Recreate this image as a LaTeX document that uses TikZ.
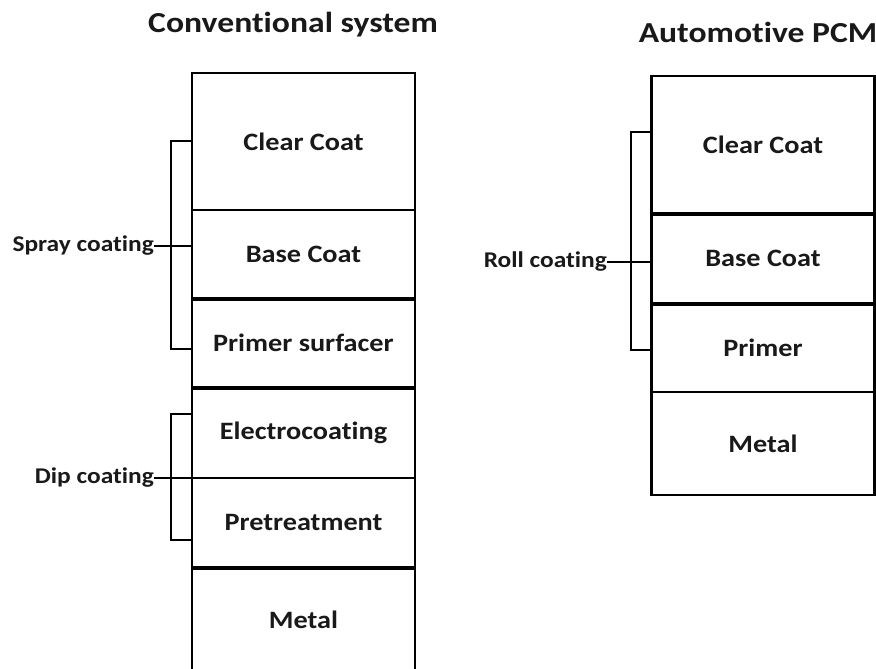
\documentclass[tikz,border=0pt]{standalone}
\usepackage{fontspec}
\newfontfamily\labfont[FakeStretch=1.13,Ligatures=NoCommon,BoldFont={Carlito Bold}]{Carlito}
\newfontfamily\titfont[FakeStretch=1.16,Ligatures=NoCommon,BoldFont={Carlito Bold}]{Carlito}
\begin{document}
\begin{tikzpicture}[x=1pt,y=-1pt,
  layer/.style={draw=black,line width=2.2pt,minimum width=223pt,inner sep=0pt,
    font=\labfont\bfseries\fontsize{25}{28}\selectfont,text=black!90},
  divider/.style={line width=3.2pt},
  bracket/.style={draw=black,line width=1.8pt},
  side/.style={font=\labfont\bfseries\fontsize{22.5}{26}\selectfont,text=black!90,inner sep=0pt,anchor=east},
  title/.style={font=\titfont\bfseries\fontsize{29}{32}\selectfont,text=black!90,inner sep=0pt,anchor=base}]
\useasboundingbox (0,0) rectangle (876,669);
\clip (0,0) rectangle (876,669);
% titles
\node[title] (t1) at (293,33) {Conventional system};
\node[title] (t2) at (758,43) {Automotive PCM};
% left stack
\node[layer,minimum height=137pt] (l1) at (303.5,141.5) {Clear Coat};
\node[layer,minimum height=88pt] (l2) at (303.5,254) {Base Coat};
\node[layer,minimum height=89pt] (l3) at (303.5,342.5) {Primer surfacer};
\node[layer,minimum height=91pt] (l4) at (303.5,432.5) {Electrocoating};
\node[layer,minimum height=89pt] (l5) at (303.5,522.5) {Pretreatment};
\node[layer,minimum height=106pt] (l6) at (303.5,620) {Metal};
\draw[divider] (l2.south west) -- (l2.south east);
\draw[divider] (l3.south west) -- (l3.south east);
\draw[divider] (l5.south west) -- (l5.south east);
% right stack
\node[layer,minimum height=137pt] (r1) at (763,144.5) {Clear Coat};
\node[layer,minimum height=90pt] (r2) at (763,258) {Base Coat};
\node[layer,minimum height=89pt] (r3) at (763,347.5) {Primer};
\node[layer,minimum height=103pt] (r4) at (763,443.5) {Metal};
\draw[divider] (r1.south west) -- (r1.south east);
\draw[divider,line width=3.8pt] (r2.south west) -- (r2.south east);
% brackets
\coordinate (sa) at (l1.west |- 0,141);
\coordinate (sb) at (l3.west |- 0,349);
\draw[bracket] (sa) -| (171,349) -- (sb);
\node[side] (spray) at (154,246) {Spray coating};
\draw[bracket] (spray.east) -- (l2.west |- spray.east);
\coordinate (da) at (l4.west |- 0,414);
\coordinate (db) at (l5.west |- 0,540);
\draw[bracket] (da) -| (171,540) -- (db);
\node[side] (dip) at (154,478) {Dip coating};
\draw[bracket] (dip.east) -- (l5.west |- dip.east);
\coordinate (ra) at (r1.west |- 0,132);
\coordinate (rb) at (r3.west |- 0,350);
\draw[bracket] (ra) -| (631,350) -- (rb);
\node[side] (roll) at (607,262) {Roll coating};
\draw[bracket] (roll.east) -- ([xshift=2pt]r2.west |- roll.east);
\end{tikzpicture}
\end{document}
